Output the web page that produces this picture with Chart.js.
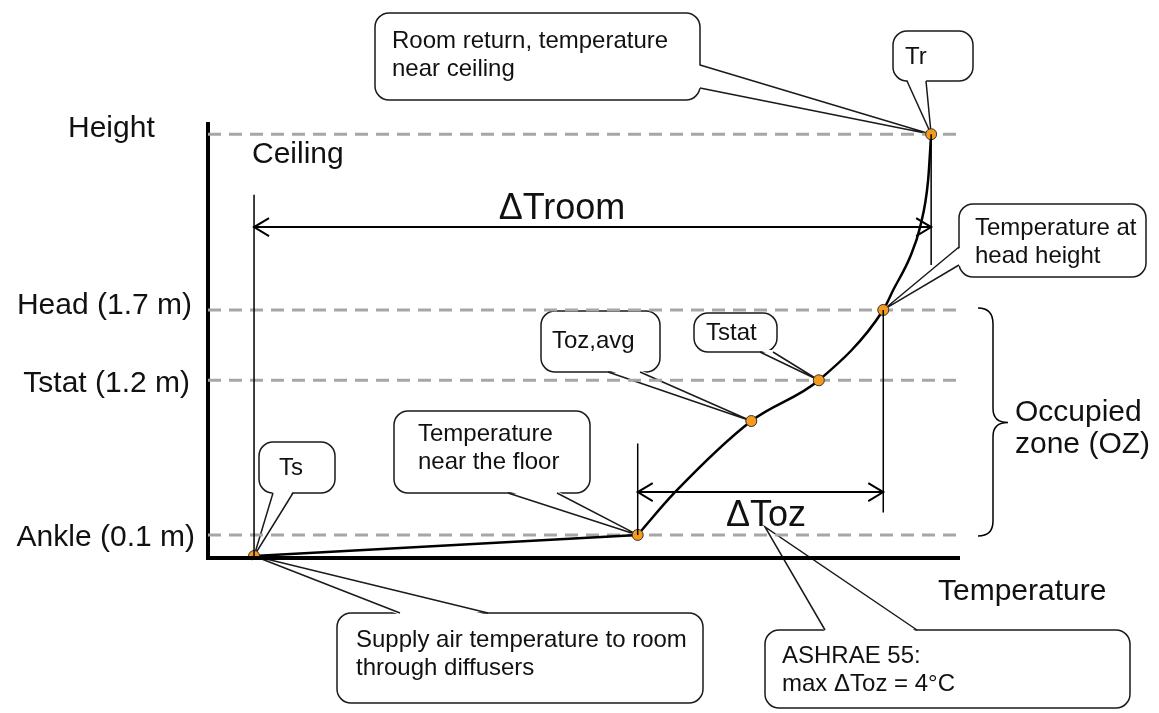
<!DOCTYPE html>
<html>
<head>
<meta charset="utf-8">
<script src="https://cdn.jsdelivr.net/npm/chart.js@4.4.1/dist/chart.umd.min.js"></script>
<style>
  html, body { margin: 0; padding: 0; background: #fff; }
  canvas { display: block; }
</style>
</head>
<body>
<canvas id="diagram" width="1159" height="713"></canvas>
<script>
// Temperature profile data (arbitrary °C on x, metres above floor on y)
const markerNames = ['Ts', 'Floor', 'Toz,avg', 'Tstat', 'Head', 'Tr'];
const markerTemp = [12.95, 19.2, 21.05, 22.15, 23.2, 23.98];
const markerHeight = [0, 0.15, 0.96, 1.25, 1.75, 3.0];

// supply air runs almost flat along the floor
const supplyTemp = [12.95, 19.2];
const supplyHeight = [0, 0.15];

// stratified profile from ankle level up to the ceiling
const profileTemp = [19.2, 19.8, 21.05, 22.15, 23.2, 23.36, 23.64, 23.8, 23.93, 23.98];
const profileHeight = [0.15, 0.45, 0.96, 1.25, 1.75, 1.89, 2.13, 2.34, 2.67, 3.0];

const levelNames = ['Ceiling', 'Head (1.7 m)', 'Tstat (1.2 m)', 'Ankle (0.1 m)'];
const levelHeight = [3.0, 1.75, 1.25, 0.15];

const xMin = 12.2, xMax = 24.45;
const yMin = 0, yMax = 3.087;

const FONT = '"Liberation Sans", Arial, sans-serif';

function toPoints(xs, ys) {
    return xs.map((v, i) => ({ x: v, y: ys[i] }));
}

// Dashed level lines across the plot
const levelSets = levelHeight.map((h, i) => ({
    label: levelNames[i],
    data: [{ x: xMin, y: h }, { x: xMax, y: h }],
    showLine: true,
    borderColor: '#a6a6a6',
    borderWidth: 3,
    borderDash: [13, 8],
    pointRadius: 0,
    order: 3
}));

function arrow(ctx, x1, x2, y) {
    ctx.beginPath();
    ctx.moveTo(x1, y); ctx.lineTo(x2, y);
    ctx.moveTo(x1 + 15, y - 9); ctx.lineTo(x1, y); ctx.lineTo(x1 + 15, y + 9);
    ctx.moveTo(x2 - 15, y - 9); ctx.lineTo(x2, y); ctx.lineTo(x2 - 15, y + 9);
    ctx.stroke();
}

// Callout boxes; base points sit on the box edge, apex is a marker index or a pixel point
const callouts = [
    { x: 375, y: 13, w: 325, h: 87, lines: ['Room return, temperature', 'near ceiling'], tx: 392, ty: 41, side: 'right', base: [[700, 65], [700, 88]], apex: 5 },
    { x: 893, y: 31, w: 80, h: 50, lines: ['Tr'], tx: 905, ty: 57, side: 'bottom', base: [[907, 81], [926, 81]], apex: 5 },
    { x: 959, y: 204, w: 187, h: 73, lines: ['Temperature at', 'head height'], tx: 975, ty: 228, side: 'left', base: [[959, 247], [959, 265]], apex: 4 },
    { x: 541, y: 311, w: 119, h: 61, lines: ['Toz,avg'], tx: 552, ty: 341, side: 'bottom', base: [[608, 372], [640, 372]], apex: 2 },
    { x: 694, y: 313, w: 83, h: 39, lines: ['Tstat'], tx: 706, ty: 333, side: 'bottom', base: [[760, 352], [773, 352]], apex: 3 },
    { x: 394, y: 411, w: 196, h: 82, lines: ['Temperature', 'near the floor'], tx: 418, ty: 434, side: 'bottom', base: [[508, 493], [557, 493]], apex: 1 },
    { x: 259, y: 442, w: 76, h: 51, lines: ['Ts'], tx: 279, ty: 468, side: 'bottom', base: [[273, 493], [293, 493]], apex: 0 },
    { x: 337, y: 613, w: 366, h: 90, lines: ['Supply air temperature to room', 'through diffusers'], tx: 356, ty: 640, side: 'top', base: [[400, 613], [488, 613]], apex: 0 },
    { x: 765, y: 630, w: 365, h: 78, lines: ['ASHRAE 55:', 'max \u0394Toz = 4°C'], tx: 782, ty: 656, side: 'top', base: [[825, 630], [917, 630]], apex: [765, 527] }
];

function drawCallout(chart, c) {
    const ctx = chart.ctx;
    let ax, ay;
    if (Array.isArray(c.apex)) {
        ax = c.apex[0]; ay = c.apex[1];
    } else {
        ax = chart.scales.x.getPixelForValue(markerTemp[c.apex]);
        ay = chart.scales.y.getPixelForValue(markerHeight[c.apex]);
    }
    ctx.save();
    ctx.beginPath();
    ctx.roundRect(c.x, c.y, c.w, c.h, 14);
    ctx.fillStyle = '#fff';
    ctx.fill();
    ctx.lineWidth = 1.5;
    ctx.strokeStyle = '#1a1a1a';
    ctx.stroke();

    // wedge, pushed a bit inside the box so it hides the border
    const d = { top: [0, 2], bottom: [0, -2], left: [2, 0], right: [-2, 0] }[c.side];
    const b1 = c.base[0], b2 = c.base[1];
    ctx.beginPath();
    ctx.moveTo(b1[0] + d[0], b1[1] + d[1]);
    ctx.lineTo(ax, ay);
    ctx.lineTo(b2[0] + d[0], b2[1] + d[1]);
    ctx.closePath();
    ctx.fill();
    ctx.beginPath();
    ctx.moveTo(b1[0], b1[1]); ctx.lineTo(ax, ay); ctx.lineTo(b2[0], b2[1]);
    ctx.stroke();

    ctx.fillStyle = '#111';
    ctx.font = '24px ' + FONT;
    ctx.textBaseline = 'middle';
    ctx.textAlign = 'left';
    c.lines.forEach((t, i) => ctx.fillText(t, c.tx, c.ty + i * 28));
    ctx.restore();
}

const diagramPlugin = {
    id: 'diagram',
    beforeDatasetsDraw(chart) {
        const ctx = chart.ctx;
        const a = chart.chartArea;
        callouts.forEach(c => drawCallout(chart, c));

        // axes
        ctx.save();
        ctx.strokeStyle = '#000';
        ctx.lineWidth = 4;
        ctx.beginPath();
        ctx.moveTo(a.left, a.top);
        ctx.lineTo(a.left, a.bottom + 2);
        ctx.lineTo(a.right, a.bottom + 2);
        ctx.stroke();
        ctx.restore();
    },
    afterDatasetsDraw(chart) {
        const ctx = chart.ctx;
        const xs = chart.scales.x, ys = chart.scales.y;
        const X = t => xs.getPixelForValue(t);
        const Y = h => ys.getPixelForValue(h);

        ctx.save();
        ctx.strokeStyle = '#000';
        ctx.lineWidth = 1.5;

        // guide lines for ΔTroom
        ctx.beginPath();
        ctx.moveTo(X(markerTemp[0]), Y(0)); ctx.lineTo(X(markerTemp[0]), Y(2.57));
        ctx.moveTo(X(markerTemp[5]), Y(3.0)); ctx.lineTo(X(markerTemp[5]), Y(2.07));
        // guide lines for ΔToz
        ctx.moveTo(X(markerTemp[1]), Y(0.15)); ctx.lineTo(X(markerTemp[1]), Y(0.80));
        ctx.moveTo(X(markerTemp[4]), Y(1.75)); ctx.lineTo(X(markerTemp[4]), Y(0.31));
        ctx.stroke();

        ctx.lineWidth = 2;
        arrow(ctx, X(markerTemp[0]), X(markerTemp[5]), Y(2.34));
        arrow(ctx, X(markerTemp[1]), X(markerTemp[4]), Y(0.455));

        // brace for occupied zone
        const bt = Y(levelHeight[1]), bb = Y(levelHeight[3]), bm = (bt + bb) / 2;
        ctx.lineWidth = 1.5;
        ctx.beginPath();
        ctx.moveTo(978, bt - 2);
        ctx.quadraticCurveTo(993, bt - 2, 993, bt + 14);
        ctx.lineTo(993, bm - 14);
        ctx.quadraticCurveTo(993, bm, 1008, bm);
        ctx.quadraticCurveTo(993, bm, 993, bm + 14);
        ctx.lineTo(993, bb - 14);
        ctx.quadraticCurveTo(993, bb + 1, 978, bb + 1);
        ctx.stroke();

        // labels
        ctx.fillStyle = '#111';
        ctx.textBaseline = 'middle';
        ctx.font = '30px ' + FONT;
        ctx.textAlign = 'left';
        ctx.fillText('Height', 68, 129);
        ctx.fillText(levelNames[0], 252, Y(levelHeight[0]) + 21);
        ctx.fillText('Temperature', 938, 592);
        ctx.fillText('Occupied', 1015, bm - 10);
        ctx.fillText('zone (OZ)', 1015, bm + 22);

        ctx.textAlign = 'right';
        ctx.fillText(levelNames[1], 192, Y(levelHeight[1]) - 4);
        ctx.fillText(levelNames[2], 190, Y(levelHeight[2]) + 3);
        ctx.fillText(levelNames[3], 195, Y(levelHeight[3]) + 3);

        ctx.textAlign = 'center';
        ctx.font = '36px ' + FONT;
        ctx.fillText('\u0394Troom', 562, Y(2.34) - 18);
        ctx.fillText('\u0394Toz', 766, Y(0.455) + 24);
        ctx.restore();
    }
};

new Chart(document.getElementById('diagram').getContext('2d'), {
    type: 'scatter',
    data: {
        datasets: [
            {
                label: 'Points',
                data: toPoints(markerTemp, markerHeight),
                pointRadius: 5.5,
                pointBackgroundColor: '#f59a1b',
                pointBorderColor: '#333',
                pointBorderWidth: 1,
                order: 0
            },
            {
                label: 'Supply',
                data: toPoints(supplyTemp, supplyHeight),
                showLine: true,
                borderColor: '#000',
                borderWidth: 2.5,
                pointRadius: 0,
                tension: 0,
                order: 1
            },
            {
                label: 'Profile',
                data: toPoints(profileTemp, profileHeight),
                showLine: true,
                borderColor: '#000',
                borderWidth: 2.5,
                pointRadius: 0,
                cubicInterpolationMode: 'monotone',
                order: 1
            },
            ...levelSets
        ]
    },
    options: {
        responsive: false,
        animation: false,
        layout: { padding: { left: 208, right: 199, top: 122, bottom: 157 } },
        scales: {
            x: { type: 'linear', min: xMin, max: xMax, display: false },
            y: { type: 'linear', min: yMin, max: yMax, display: false }
        },
        plugins: {
            legend: { display: false },
            tooltip: { enabled: false }
        }
    },
    plugins: [diagramPlugin]
});
</script>
</body>
</html>
